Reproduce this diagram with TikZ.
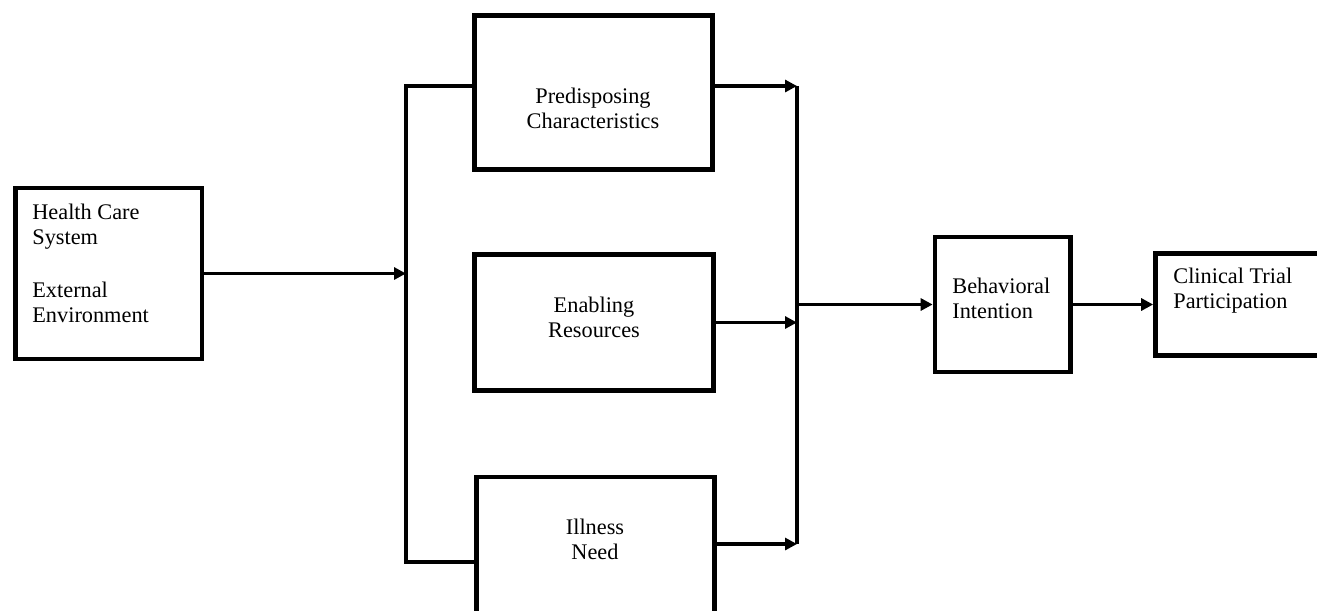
\documentclass[tikz,border=0pt]{standalone}
\usepackage{fontspec}
\setmainfont{Liberation Serif}
\usetikzlibrary{arrows.meta}

\begin{document}
\begin{tikzpicture}[x=0.02cm, y=-0.02cm,
    box/.style={draw, line width=2.7pt, inner sep=0pt},
    lbl/.style={inner sep=0pt, font=\fontsize{12.7}{14.2}\selectfont},
    conn/.style={line width=2.1pt},
    arr/.style={conn, -{Triangle[length=0.24cm, width=0.24cm]}}]

    \path[use as bounding box, clip] (0,0) rectangle (1317,610);

    % boxes
    \node[box, minimum width=3.73cm, minimum height=3.42cm] (hcs) at (108.75,273.5) {};
    \node[box, minimum width=4.76cm, minimum height=3.08cm] (pre) at (593.5,92.5) {};
    \node[box, minimum width=4.78cm, minimum height=2.72cm] (ena) at (594,322.5) {};
    \node[box, minimum width=4.76cm, minimum height=3.26cm] (ill) at (595.5,558.5) {};
    \node[box, minimum width=2.71cm, minimum height=2.70cm] (beh) at (1002.75,304.5) {};
    \node[box, minimum width=4.09cm, minimum height=2.04cm] (ctp) at (1257.75,304.5) {};

    % texts
    \node[lbl, align=left, anchor=north west] (hcstext) at (32,204)
        {Health Care\\System\\[16pt]External\\Environment};
    \node[lbl, align=center, anchor=north] (pretext) at (593,88) {Predisposing\\Characteristics};
    \node[lbl, align=center, anchor=north] (enatext) at (594,297) {Enabling\\Resources};
    \node[lbl, align=center, anchor=north] (illtext) at (595,519) {Illness\\Need};
    \node[lbl, align=left, anchor=north west] (behtext) at (952,278) {Behavioral\\Intention};
    \node[lbl, align=left, anchor=north west] (ctptext) at (1173,268) {Clinical Trial\\Participation};

    % connectors
    \coordinate (ltop) at (406,86);
    \coordinate (lbot) at (406,562);
    \coordinate (rtop) at (797,86);
    \coordinate (rbot) at (797,544);

    \draw[conn] (ltop -| pre.west) -- (ltop) -- (lbot) -- (lbot -| ill.west);
    \draw[arr] (hcs.east) -- (hcs.east -| ltop);

    \draw[conn] (rtop) -- (rbot);
    \draw[arr] (rtop -| pre.east) -- (rtop);
    \draw[arr] (ena.east) -- (ena.east -| rtop);
    \draw[arr] (rbot -| ill.east) -- (rbot);

    \draw[arr] (rtop |- beh.west) -- (beh.west);
    \draw[arr] (beh.east) -- (ctp.west);
\end{tikzpicture}
\end{document}
